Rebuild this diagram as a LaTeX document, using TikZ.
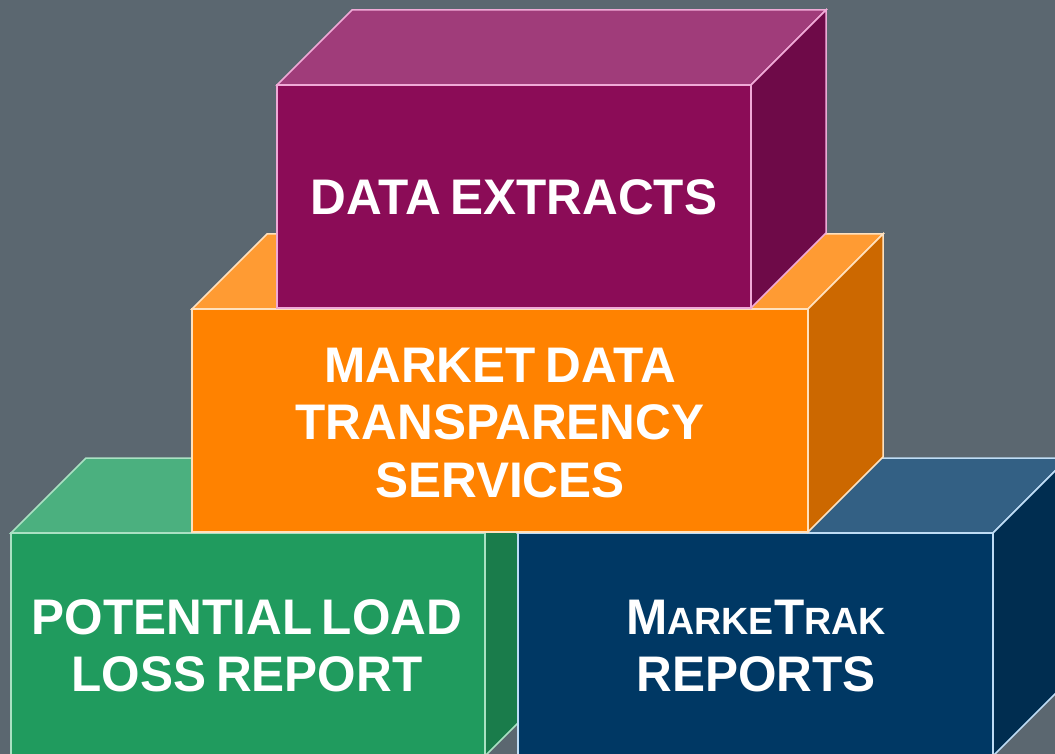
\documentclass[tikz,border=0pt]{standalone}
\usepackage{fontspec}
\setmainfont{Liberation Sans}
\newfontfamily\boxfont[FakeStretch=0.99,WordSpace=0.7]{Liberation Sans Bold}
\definecolor{bgc}{RGB}{91,103,112}
\definecolor{purF}{RGB}{139,12,87}
\definecolor{purT}{RGB}{160,60,122}
\definecolor{purR}{RGB}{110,10,72}
\definecolor{purE}{RGB}{240,170,215}
\definecolor{orF}{RGB}{255,130,0}
\definecolor{orT}{RGB}{255,155,51}
\definecolor{orR}{RGB}{204,104,0}
\definecolor{orE}{RGB}{255,225,190}
\definecolor{grF}{RGB}{32,155,94}
\definecolor{grT}{RGB}{75,176,127}
\definecolor{grR}{RGB}{26,124,75}
\definecolor{grE}{RGB}{170,225,195}
\definecolor{blF}{RGB}{0,56,100}
\definecolor{blT}{RGB}{51,96,132}
\definecolor{blR}{RGB}{0,45,80}
\definecolor{blE}{RGB}{190,220,245}
\newcommand{\cuboid}[8]{% x1 y1 x2 y2 front top right edge
  \filldraw[draw=#8,fill=#6,line width=1.5pt,line join=miter] (#1,#2) -- (#1+75,#2-75) -- (#3+75,#2-75) -- (#3,#2) -- cycle;
  \filldraw[draw=#8,fill=#7,line width=1.5pt,line join=miter] (#3,#2) -- (#3+75,#2-75) -- (#3+75,#4-75) -- (#3,#4) -- cycle;
  \filldraw[draw=#8,fill=#5,line width=1.5pt,line join=miter] (#1,#2) rectangle (#3,#4);
}
\tikzset{boxtext/.style={text=white,align=center,font=\boxfont\fontsize{50}{57.5}\selectfont,inner sep=0pt}}
\begin{document}
\begin{tikzpicture}[x=1pt,y=-1pt]
\fill[bgc] (0,0) rectangle (1055,754);
\useasboundingbox (0,0) rectangle (1055,754);
\begin{scope}
\clip (0,0) rectangle (1055,754);
\cuboid{11}{533}{485}{756}{grF}{grT}{grR}{grE}
\cuboid{518}{533}{993}{756}{blF}{blT}{blR}{blE}
\cuboid{192}{309}{808}{532}{orF}{orT}{orR}{orE}
\cuboid{277}{85}{751}{308}{purF}{purT}{purR}{purE}
\end{scope}
\node[boxtext] (de) at (514,197) {DATA EXTRACTS};
\node[boxtext] (md) at (500,423) {MARKET DATA\\TRANSPARENCY\\SERVICES};
\node[boxtext] (pl) at (247,646) {POTENTIAL LOAD\\LOSS REPORT};
\node[boxtext] (mt) at (756,646) {M{\fontsize{38}{40}\selectfont ARKE}T{\fontsize{38}{40}\selectfont RAK}\\REPORTS};
\end{tikzpicture}
\end{document}
